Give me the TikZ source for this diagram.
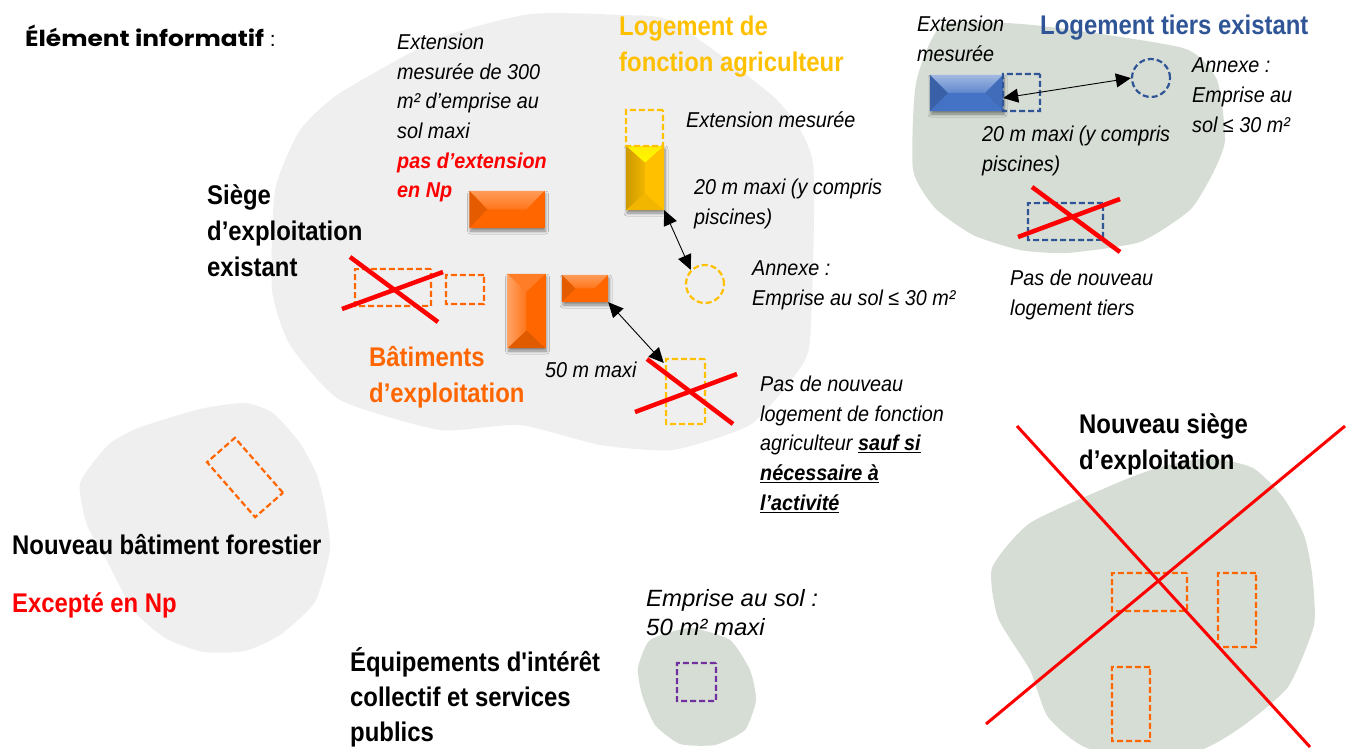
\documentclass[tikz,border=0pt]{standalone}
\usepackage{fontspec}
\setmainfont{Liberation Sans}
\newfontfamily\headfont[FakeStretch=.885]{Liberation Sans}
\newfontfamily\notefont[FakeStretch=.92]{Liberation Sans}
\newfontfamily\widefont[FakeStretch=1.02]{Liberation Sans}
\newfontfamily\infofont[FakeStretch=1.13]{Poppins}
\usetikzlibrary{arrows.meta,shadows.blur,calc}
\definecolor{greyzone}{RGB}{240,239,240}
\definecolor{greenzone}{RGB}{214,221,213}
\definecolor{ocol}{RGB}{255,102,0}
\definecolor{ycol}{RGB}{255,192,0}
\definecolor{bcol}{RGB}{47,85,151}
\definecolor{lcol}{RGB}{68,114,196}
\definecolor{pcol}{RGB}{112,48,160}
\definecolor{rcol}{RGB}{255,0,0}
\tikzset{every picture/.style={x=1pt,y=-1pt}}
\tikzset{zone/.style={smooth cycle,tension=.35}}
\tikzset{plan/.style={draw,dash pattern=on 6pt off 3pt,line width=2.2pt,inner sep=0pt,rotate=.2}}
\tikzset{built/.style={inner sep=0pt,blur shadow={shadow xshift=1pt,shadow yshift=-3pt,shadow opacity=45,shadow blur steps=6,shadow blur radius=3pt}}}
\tikzset{cross/.style={rcol,line width=4.5pt}}
\tikzset{thincross/.style={rcol,line width=3pt}}
\tikzset{dist/.style={black,line width=.9pt,{Triangle[length=15pt,width=14pt]}-{Triangle[length=15pt,width=14pt]}}}
\tikzset{note/.style={inner sep=0pt,anchor=north west,align=left,font=\notefont\itshape\fontsize{21.5}{29.6}\selectfont,execute at begin node=\strut}}
\tikzset{wide/.style={note,font=\widefont\itshape\fontsize{23.5}{29.6}\selectfont}}
\tikzset{head/.style={inner sep=0pt,anchor=north west,align=left,font=\headfont\bfseries\fontsize{27}{36}\selectfont,execute at begin node=\strut}}
% roof facets: node, half width of the roof, then top, bottom, left, right looks
\newcommand{\hroof}[6]{
\coordinate (p) at ($(#1.west)+(#2,0)$);
\coordinate (q) at ($(#1.east)+(-#2,0)$);
\path [#3] (#1.north west) -- (#1.north east) -- (q) -- (p) -- cycle;
\path [#4] (#1.south west) -- (#1.south east) -- (q) -- (p) -- cycle;
\path [#5] (#1.north west) -- (#1.south west) -- (p) -- cycle;
\path [#6] (#1.north east) -- (#1.south east) -- (q) -- cycle;
}
\newcommand{\vroof}[6]{
\coordinate (p) at ($(#1.north)+(0,#2)$);
\coordinate (q) at ($(#1.south)+(0,-#2)$);
\path [#3] (#1.north west) -- (#1.north east) -- (p) -- cycle;
\path [#4] (#1.south west) -- (#1.south east) -- (q) -- cycle;
\path [#5] (#1.north west) -- (#1.south west) -- (q) -- (p) -- cycle;
\path [#6] (#1.north east) -- (#1.south east) -- (q) -- (p) -- cycle;
}
\begin{document}
\begin{tikzpicture}
\useasboundingbox (0,0) rectangle (1354,749);

% zones
\fill [greyzone] plot [zone] coordinates {(530,14) (620,15) (673,22) (777,100) (813,163) (810,340) (795,375) (750,425) (673,450) (600,445) (520,425) (440,430) (340,400) (290,345) (272,290) (275,190) (300,130) (340,93) (440,38)};
\fill [greyzone] plot [zone] coordinates {(80,483) (108,445) (138,428) (200,409) (245,403) (273,413) (300,443) (317,475) (325,507) (330,550) (315,602) (280,635) (245,651) (203,652) (165,638) (133,610) (108,563) (87,525)};
\fill [greenzone] plot [zone] coordinates {(943,25) (1033,25) (1183,48) (1217,80) (1225,140) (1213,173) (1190,210) (1140,242) (1067,253) (1020,250) (973,235) (935,208) (913,170) (916,83)};
\fill [greenzone] plot [zone] coordinates {(638,668) (650,640) (690,628) (730,640) (750,670) (756,700) (745,730) (715,745) (680,744) (655,725) (642,695)};
\fill [greenzone] plot [zone] coordinates {(992,568) (1030,523) (1117,483) (1160,467) (1210,458) (1253,468) (1283,497) (1304,535) (1312,573) (1314,625) (1288,687) (1240,728) (1193,752) (1090,749) (1048,717) (1030,670) (998,618)};

% existing buildings
\node [built,fill=ocol,minimum width=75,minimum height=37] (batA) at (507,209.5) {};
\hroof{batA}{18}{top color=ocol!65!white,bottom color=ocol!90!white}{fill=ocol}{fill=ocol!90!black}{fill=ocol}
\node [built,fill=ocol,minimum width=38,minimum height=74] (batB) at (526.5,311) {};
\vroof{batB}{18}{fill=ocol!85!white}{fill=ocol!88!black}{left color=ocol!60!white,right color=ocol!90!white}{fill=ocol}
\node [built,fill=ocol,minimum width=46,minimum height=27] (batC) at (585,288.5) {};
\hroof{batC}{13.5}{top color=ocol!65!white,bottom color=ocol!90!white}{fill=ocol}{fill=ocol!90!black}{fill=ocol}
\node [built,fill=ycol,minimum width=38,minimum height=64] (logA) at (645,178) {};
\vroof{logA}{17}{top color=yellow!70!ycol,bottom color=yellow!90!ycol}{fill=ycol!95!black}{left color=ycol!80!black,right color=ycol!95!black}{fill=ycol}
\node [built,fill=lcol,minimum width=73,minimum height=36] (logB) at (966.5,93) {};
\hroof{logB}{18}{top color=lcol!50!white,bottom color=lcol!85!white}{fill=lcol}{fill=lcol!85!black}{fill=lcol!95!black}

% planned buildings
\node [plan,ycol,minimum width=37,minimum height=36] (extA) at (644.5,128) {};
\node [plan,ocol,minimum width=76,minimum height=37] (siegeA) at (393,287.5) {};
\node [plan,ocol,minimum width=38,minimum height=29] (siegeB) at (465,289.5) {};
\node [plan,ycol,minimum width=39,minimum height=65] (logC) at (685.5,391.5) {};
\node [plan,ocol,minimum width=73,minimum height=37,rotate=-49] (forest) at (245,477.5) {};
\node [plan,ycol,circle,minimum size=38] (annexA) at (705,284) {};
\node [plan,bcol,minimum width=37,minimum height=37] (extB) at (1021.5,92.5) {};
\node [plan,bcol,circle,minimum size=38] (annexB) at (1151,78) {};
\node [plan,bcol,minimum width=75,minimum height=37] (logD) at (1065.5,221.5) {};
\node [plan,pcol,minimum width=39,minimum height=38] (equip) at (696.5,682) {};
\node [plan,ocol,minimum width=75,minimum height=38] (newA) at (1149.5,592) {};
\node [plan,ocol,minimum width=38,minimum height=74] (newB) at (1237,610) {};
\node [plan,ocol,minimum width=38,minimum height=74] (newC) at (1131,704) {};

% crosses
\draw [cross] (350,257) -- (438,322);
\draw [cross] (342,309) -- (443,272);
\draw [cross] (647,359) -- (733,424);
\draw [cross] (635,412) -- (737,374);
\draw [cross] (1032,187) -- (1120,252);
\draw [cross] (1018,237) -- (1120,199);
\draw [thincross] (1017,426) -- (1310,747);
\draw [thincross] (1345,426) -- (986,724);

% distances
\draw [dist] (logA.south east) -- (annexA.north west);
\draw [dist] (batC.south east) -- ($(logC.north west)+(-1,5)$);
\draw [dist] ($(logB.east)+(0,5)$) -- (annexB.west);

% texts
\node [inner sep=0pt,anchor=base west,font=\fontsize{21}{25}\selectfont] (info) at (25,47) {{\infofont\bfseries\fontsize{22}{25}\selectfont Élément informatif} :};
\node [note] (txtA) at (397,34) {Extension\\mesurée de 300\\m² d’emprise au\\sol maxi\\\textcolor{rcol}{\bfseries pas d’extension}\\\textcolor{rcol}{\bfseries en Np}};
\node [head,ycol] (txtB) at (619,15.5) {Logement de\\fonction agriculteur};
\node [note] (txtC) at (686,107) {Extension mesurée};
\node [note] (txtD) at (694,179) {20 m maxi (y compris\\piscines)};
\node [note] (txtE) at (752,261) {Annexe :\\Emprise au sol ≤ 30 m²};
\node [note] (txtF) at (545,357) {50 m maxi};
\node [note] (txtG) at (760,376) {Pas de nouveau\\logement de fonction\\agriculteur \textbf{\underline{sauf si}}\\\textbf{\underline{nécessaire à}}\\\textbf{\underline{l’activité}}};
\node [head] (txtH) at (207,184.5) {Siège\\d’exploitation\\existant};
\node [head,ocol] (txtI) at (369,346.5) {Bâtiments\\d’exploitation};
\node [note] (txtJ) at (917,16) {Extension\\mesurée};
\node [head,bcol] (txtK) at (1040,9.5) {Logement tiers existant};
\node [note] (txtL) at (1192,58) {Annexe :\\Emprise au\\sol ≤ 30 m²};
\node [note] (txtM) at (982,126) {20 m maxi (y compris\\piscines)};
\node [note] (txtN) at (1010,270) {Pas de nouveau\\logement tiers};
\node [head] (txtO) at (1079,413.5) {Nouveau siège\\d’exploitation};
\node [head] (txtP) at (12,529.5) {Nouveau bâtiment forestier};
\node [head,rcol] (txtQ) at (12,587.5) {Excepté en Np};
\node [wide] (txtR) at (646,589) {Emprise au sol :\\50 m² maxi};
\node [head] (txtS) at (350,647) {Équipements d'intérêt\\[-1pt]collectif et services\\[-1pt]publics};
\end{tikzpicture}
\end{document}
